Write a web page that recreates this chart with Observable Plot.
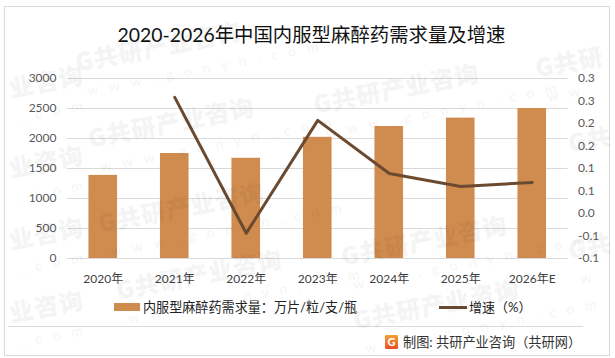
<!DOCTYPE html>
<html><head><meta charset="utf-8">
<script src="https://cdn.jsdelivr.net/npm/d3@7"></script>
<script src="https://cdn.jsdelivr.net/npm/@observablehq/plot@0.6"></script>
<style>
html,body{margin:0;padding:0;background:#fff}
#wrap{position:relative;width:615px;height:358px;overflow:hidden;font-family:Lato,"Noto Sans CJK SC",sans-serif}
#wrap svg{position:absolute;left:0;top:0;background:transparent}
.abs{position:absolute;white-space:nowrap}
.wm{position:absolute;transform:rotate(-11deg);transform-origin:left top;color:#000;opacity:.04;white-space:nowrap;line-height:1}
.wm b{display:block;font:900 24px "Noto Sans CJK SC";letter-spacing:1px}
.wm i{display:block;font:400 14px Lato;letter-spacing:11px;margin:5px 0 0 6px}
</style></head><body><div id="wrap"></div>
<script>
const years = ["2020年","2021年","2022年","2023年","2024年","2025年","2026年E"];
const demand = [1385,1750,1670,2020,2200,2340,2500];
const growthYears = ["2021年","2022年","2023年","2024年","2025年","2026年E"];
const growth = [0.258,-0.044,0.207,0.089,0.06,0.069];
const leftTicks = [0,500,1000,1500,2000,2500,3000];
const rightTicks = [-0.1,-0.05,0,0.05,0.1,0.15,0.2,0.25,0.3];
const rightLabels = ["-0.1","-0.1","0.0","0.1","0.1","0.2","0.2","0.3","0.3"];
const title = "2020-2026年中国内服型麻醉药需求量及增速";
const legendBar = "内服型麻醉药需求量：万片/粒/支/瓶";
const legendLine = "增速（%）";
const source = "制图: 共研产业咨询（共研网）";
const wmFull = ["G共研产业咨询","www.gonyn.com"];
const wmRight = ["G共研","ww"];
const wmEdge = ["G共","w"];
const wmLeft = ["业咨询",".com"];
const watermarkFull = [[72,44],[85,120],[310,86],[95,205],[338,238],[113,272],[350,302]];
const watermarkRight = [[532,50]];
const watermarkEdge = [[565,125],[565,232]];
const watermarkLeft = [[6,70],[6,150],[6,222],[6,295]];

const toLeft = g => (g + 0.1) / 0.4 * 3000;
const chart = Plot.plot({
  width:615,height:358,marginLeft:67,marginRight:47.5,marginTop:78,marginBottom:100,
  style:{background:"transparent",fontFamily:'Lato,"Noto Sans CJK SC",sans-serif'},
  x:{domain:years,paddingInner:0.6,paddingOuter:0.3,round:false,label:null},
  y:{domain:[0,3000],label:null},
  marks:[
    Plot.ruleY(leftTicks,{stroke:"#d9d9d9",strokeWidth:1}),
    Plot.barY(years.map((y,i)=>({y,v:demand[i]})),{x:"y",y:"v",fill:"#d08c4f"}),
    Plot.line(growthYears.map((y,i)=>({y,v:toLeft(growth[i])})),{x:"y",y:"v",stroke:"#6b4a30",strokeWidth:3,curve:"linear"}),
    Plot.axisX({tickSize:0,tickPadding:16,fontSize:12,color:"#404040",label:null}),
    Plot.axisY({ticks:leftTicks,tickSize:0,tickPadding:11,fontSize:12,color:"#595959",label:null,tickFormat:d=>String(d)}),
    Plot.axisY({anchor:"right",ticks:rightTicks.map(toLeft),tickSize:0,tickPadding:10,fontSize:12,color:"#595959",label:null,
      tickFormat:(d,i)=>rightLabels[i]})
  ]
});
const wrap=document.getElementById("wrap");
function add(css,text,cls){const e=document.createElement("div");e.className=cls||"abs";e.style.cssText=css;if(text!=null)e.textContent=text;wrap.appendChild(e);return e;}
add("left:4px;top:6px;width:604px;height:348px;border:1px solid #d9d9d9");
wrap.appendChild(chart);
add("left:0;width:623px;top:21px;text-align:center;font-size:19.4px;line-height:28px;color:#111",title);
add("left:114px;top:303px;width:26px;height:8px;background:#d08c4f");
add("left:143px;top:298px;font-size:13.1px;line-height:18px;color:#222",legendBar);
add("left:439px;top:306px;width:28px;height:3px;background:#6b4a30");
add("left:469px;top:298px;font-size:13px;line-height:18px;color:#222",legendLine);
add("left:8px;top:326px;width:575px;height:1px;background:#d9d9d9");
add("left:385px;top:335px;width:13px;height:14px;background:linear-gradient(#f7a030,#e9502a);color:#fff;font:900 11px/14px Lato;text-align:center;border-radius:1px","G");
add("left:403px;top:333px;font-size:13.2px;line-height:18px;color:#333",source);
function marks(list,t){for(const [x,y] of list){
  const w=document.createElement("div");w.className="wm";w.style.left=x+"px";w.style.top=y+"px";
  const b=document.createElement("b");b.textContent=t[0];const i=document.createElement("i");i.textContent=t[1];
  w.append(b,i);wrap.appendChild(w);
}}
marks(watermarkFull,wmFull);marks(watermarkRight,wmRight);marks(watermarkEdge,wmEdge);marks(watermarkLeft,wmLeft);
</script></body></html>
